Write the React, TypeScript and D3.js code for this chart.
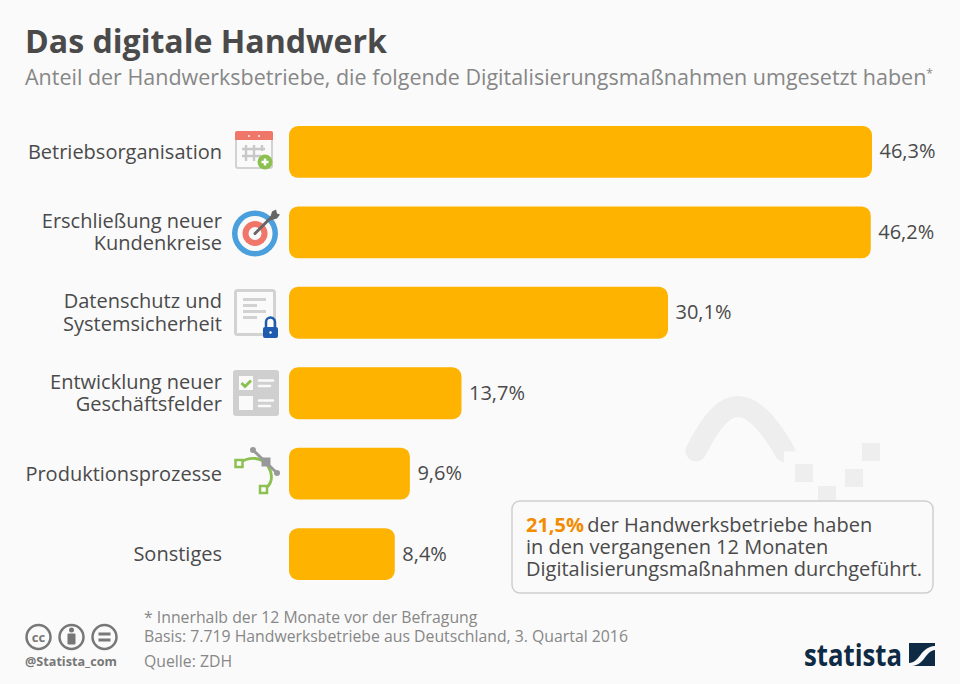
import React from "react";
import * as d3 from "d3";

const categories = ["Betriebsorganisation", "Erschließung neuer|Kundenkreise", "Datenschutz und|Systemsicherheit", "Entwicklung neuer|Geschäftsfelder", "Produktionsprozesse", "Sonstiges"];
const values = [46.3, 46.2, 30.1, 13.7, 9.6, 8.4];
const valueLabels = ["46,3%", "46,2%", "30,1%", "13,7%", "9,6%", "8,4%"];
const footerLines = ["* Innerhalb der 12 Monate vor der Befragung", "Basis: 7.719 Handwerksbetriebe aus Deutschland, 3. Quartal 2016"];

const font = "'Open Sans', sans-serif";
const x = d3.scaleLinear().domain([0, 46.3]).range([289, 872]);
const y = d3.scaleBand<number>().domain(d3.range(6)).range([126, 580]).paddingInner(0.355).paddingOuter(0);

function IconCalendar() {
  return (
    <g transform="translate(235,131)">
      <rect x="1" y="1" width="36" height="36" rx="2" fill="#fafafa" stroke="#d2d2d2" strokeWidth="2" />
      <path d="M0 9V2a2 2 0 0 1 2-2h34a2 2 0 0 1 2 2v7z" fill="#f0766a" />
      <circle cx="14" cy="5" r="1" fill="#fff" /><circle cx="24" cy="5" r="1" fill="#fff" />
      <path d="M11 14v16M19 14v16M7 18h23M7 25h19M27 14v6" stroke="#c8c8c8" strokeWidth="2.400" fill="none" />
      <circle cx="30" cy="31" r="7.500" fill="#8cc152" />
      <path d="M26.500 31h7M30 27.500v7" stroke="#fff" strokeWidth="2.400" />
    </g>
  );
}
function IconTarget() {
  const c: [number, string][] = [[23, "#4b9fdc"], [17.5, "#fafafa"], [12.5, "#f0766a"], [6.5, "#fafafa"]];
  return (
    <g transform="translate(255,233.5)">
      {c.map(([r, f]) => <circle key={r} r={r} fill={f} />)}
      <path d="M0 0L18 -18" stroke="#666" strokeWidth="3" strokeLinecap="round" />
      <path d="M15 -15l2 -7 4 -2 1 4 3 1 -3 4 -7 2z" fill="#666" />
    </g>
  );
}
function IconDoc() {
  return (
    <g transform="translate(234,289)">
      <rect x="1.500" y="1.500" width="39" height="44" rx="2" fill="#fafafa" stroke="#d2d2d2" strokeWidth="3" />
      <path d="M9 10.500h23M9 16.500h14M9 22.500h23M9 28.500h14" stroke="#d2d2d2" strokeWidth="3" />
      <path d="M32 39v-6a4.500 4.500 0 0 1 9 0v6" fill="none" stroke="#1f5cb0" strokeWidth="2.500" />
      <rect x="29" y="38" width="15" height="11" rx="2" fill="#1f5cb0" />
      <circle cx="36.500" cy="43.500" r="1.200" fill="#fff" />
    </g>
  );
}
function IconChecklist() {
  return (
    <g transform="translate(233,370)">
      <rect width="46" height="46" rx="3" fill="#cfcfcf" />
      <rect x="6" y="6" width="14" height="14" fill="#fafafa" />
      <rect x="6" y="26" width="14" height="14" fill="#fafafa" />
      <path d="M8.500 13l3.500 3.500 6-6" fill="none" stroke="#8cc152" strokeWidth="3" />
      <path d="M26 10.500h14M26 16h11M26 30.500h14M26 36h11" stroke="#fafafa" strokeWidth="2.600" strokeLinecap="round" />
    </g>
  );
}
function IconBezier() {
  return (
    <g>
      <path d="M239 463C250 456 262 457 268 466C274 476 272 486 263 489" fill="none" stroke="#8cc152" strokeWidth="2.800" />
      <path d="M253 450L277 473" stroke="#999" strokeWidth="3" />
      <circle cx="253" cy="450" r="3" fill="#999" /><circle cx="277" cy="473" r="3" fill="#999" />
      <rect x="261.500" y="457.500" width="9" height="9" fill="#999" />
      <rect x="235.500" y="460" width="7" height="7" fill="#fafafa" stroke="#8cc152" strokeWidth="2.500" />
      <rect x="260" y="486" width="7" height="7" fill="#fafafa" stroke="#8cc152" strokeWidth="2.500" />
    </g>
  );
}
const icons = [IconCalendar, IconTarget, IconDoc, IconChecklist, IconBezier];

export default function App() {
  return (
    <svg width={960} height={684} style={{ position: "fixed", left: 0, top: 0 }} fontFamily={font}>
      <rect width={960} height={684} fill="#fafafa" />

      {/* watermark */}
      <path d="M696 451C714 415 727 406.500 738 406.500C750 406.500 766 418 785 452" fill="none" stroke="#eeeeee" strokeWidth="21" strokeLinecap="round" />
      <rect x="784" y="451.500" width="14" height="14" fill="#fafafa" />
      <g fill="#eeeeee">
        <rect x="795" y="464" width="18" height="18" />
        <rect x="845" y="469" width="18" height="18" />
        <rect x="862" y="443" width="18" height="18" />
        <rect x="818" y="486" width="18" height="14" />
      </g>

      <text x={25} y={53} fontSize={32} fontWeight={700} fill="#4a4a4a" textLength={362} lengthAdjust="spacingAndGlyphs">Das digitale Handwerk</text>
      <text x={25} y={85} fontSize={21.300} fill="#878787" textLength={908} lengthAdjust="spacingAndGlyphs">
        Anteil der Handwerksbetriebe, die folgende Digitalisierungsmaßnahmen umgesetzt haben<tspan fontSize={12} dy={-7}>*</tspan>
      </text>

      {categories.map((c, i) => {
        const lines = c.split("|");
        const cy = y(i)! + y.bandwidth() / 2;
        return (
          <g key={c}>
            <rect x={x(0)} y={y(i)} width={x(values[i]) - x(0)} height={y.bandwidth()} rx={9} fill="#feb300" />
            <text y={cy + 7 + (lines.length > 1 ? -11.500 : 0)} textAnchor="end" fontSize={20} fill="#4a4a4a">
              {lines.map((l, k) => <tspan key={l} x={222} dy={k ? 22.500 : 0}>{l}</tspan>)}
            </text>
            <text x={x(values[i]) + 7.500} y={cy + 6.500} fontSize={20} fill="#4a4a4a">{valueLabels[i]}</text>
          </g>
        );
      })}
      {icons.map((Icon, i) => <Icon key={i} />)}

      <rect x={512} y={501} width={421} height={92} rx={8} fill="#fafafa" stroke="#cfcfcf" strokeWidth={1.500} />
      <text fontSize={20} fill="#4a4a4a">
        <tspan x={526} y={532} fontWeight={700} fill="#f28c00">21,5%</tspan>
        <tspan dx={-2}> der Handwerksbetriebe haben</tspan>
        <tspan x={526} y={554}>in den vergangenen 12 Monaten</tspan>
        <tspan x={526} y={576}>Digitalisierungsmaßnahmen durchgeführt.</tspan>
      </text>

      <text fontSize={15.800} fill="#878787">
        {footerLines.map((l, i) => <tspan key={l} x={144} y={623 + i * 19}>{l}</tspan>)}
        <tspan x={144} y={667}>Quelle: ZDH</tspan>
      </text>

      {/* licence badges */}
      <g fill="none" stroke="#777" strokeWidth={2.500}>
        <circle cx={38.500} cy={637} r={12} />
        <circle cx={71.500} cy={637} r={12} />
        <circle cx={104.500} cy={637} r={12} />
      </g>
      <g fill="#777">
        <text x={38.500} y={641.500} textAnchor="middle" fontSize={13} fontWeight={700}>cc</text>
        <circle cx={71.500} cy={630} r={2.500} />
        <rect x={67.500} y={633.500} width={8} height={11} rx={1} />
        <rect x={98.500} y={632.500} width={12} height={3} />
        <rect x={98.500} y={638.500} width={12} height={3} />
      </g>
      <text x={25} y={666} fontSize={12} fontWeight={700} fill="#777" textLength={92} lengthAdjust="spacingAndGlyphs">@Statista_com</text>

      {/* logo */}
      <text x={804} y={666} fontSize={31} fontWeight={700} fill="#0e2a44" textLength={98} lengthAdjust="spacingAndGlyphs">statista</text>
      <rect x={909} y={643} width={26} height={23} fill="#0e2a44" />
      <path d="M909 663C920 663 920 647 935 646V650C925 651 925 665 912 666H909Z" fill="#fafafa" />
    </svg>
  );
}
